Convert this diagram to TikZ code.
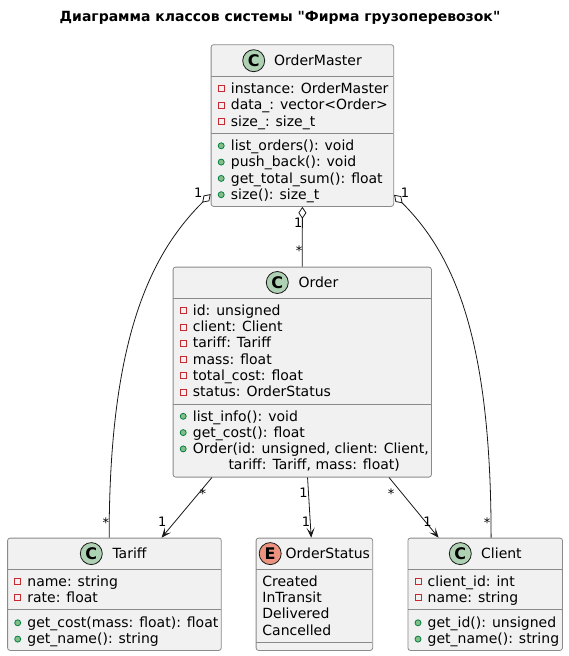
\documentclass[tikz,border=0pt]{standalone}
\usepackage{fontspec}
\setmainfont{DejaVu Sans}[Ligatures=TeXOff]
\usetikzlibrary{arrows.meta}
\definecolor{boxfill}{HTML}{F1F1F1}
\definecolor{boxline}{HTML}{8A8A8A}
\definecolor{linkline}{HTML}{181818}
\definecolor{spotC}{HTML}{ADD1B2}
\definecolor{spotE}{HTML}{EB937F}
\definecolor{privred}{HTML}{C82930}
\definecolor{pubfill}{HTML}{84BE84}
\definecolor{publine}{HTML}{038048}
\tikzset{
	classbox/.style={draw=boxline, fill=boxfill, line width=0.8pt, rounded corners=2.5pt, inner sep=0pt, anchor=north west},
	sepline/.style={draw=boxline, line width=0.8pt},
	spot/.style={circle, draw=linkline, line width=0.8pt, minimum size=22pt, inner sep=0pt, font=\fontsize{16}{16}\selectfont\bfseries},
	cname/.style={anchor=west, inner sep=0pt, font=\fontsize{14}{16}\selectfont},
	member/.style={anchor=base west, inner sep=0pt, font=\fontsize{14}{16}\selectfont},
	lbl/.style={anchor=base, inner sep=0pt, font=\fontsize{13}{15}\selectfont},
	link/.style={draw=linkline, line width=0.8pt},
	agg/.style={link, {Diamond[fill=white, length=12pt, width=8pt]}-},
	nav/.style={link, -{Stealth[length=10pt, width=8pt, inset=5pt]}}
}
\newcommand\privrow[4]{%
	\draw[privred, line width=0.8pt] ({#2-12.5},{#3-7.7}) rectangle +(6,6);
	\node[member] (#1) at ({#2},{#3}) {#4};}
\newcommand\pubrow[4]{%
	\draw[publine, fill=pubfill, line width=0.8pt] ({#2-9.5},{#3-4.7}) circle (3pt);
	\node[member] (#1) at ({#2},{#3}) {#4};}

\begin{document}
\begin{tikzpicture}[x=1pt, y=-1pt]
	\useasboundingbox (0,0) rectangle (568,656);
	\node[anchor=base, inner sep=0pt, font=\fontsize{14}{16}\selectfont\bfseries] (title) at (280,21.5) {Диаграмма классов системы "Фирма грузоперевозок"};

	\node[classbox, minimum width=182.6pt, minimum height=161.7pt] (om) at (210.7,44.3) {};
	\draw[sepline] (210.7,76) -- (393.3,76);
	\draw[sepline] (210.7,133.3) -- (393.3,133.3);
	\node[spot, fill=spotC] (om-spot) at (253.7,60.7) {C};
	\node[cname] (om-name) at (274,60.7) {OrderMaster};
	\foreach \t [count=\i] in {instance: OrderMaster, data\_: vector<Order>, size\_: size\_t}
		{\privrow{om-a\i}{230.7}{93.5+16.3*(\i-1)}{\t}}
	\foreach \t [count=\i] in {list\_orders(): void, push\_back(): void, get\_total\_sum(): float, size(): size\_t}
		{\pubrow{om-m\i}{230.7}{150.5+16.3*(\i-1)}{\t}}

	\node[classbox, minimum width=258.3pt, minimum height=210pt] (ord) at (172.7,266.7) {};
	\draw[sepline] (172.7,298) -- (431,298);
	\draw[sepline] (172.7,404) -- (431,404);
	\node[spot, fill=spotC] (ord-spot) at (277.3,282.5) {C};
	\node[cname] (ord-name) at (298.3,282.5) {Order};
	\foreach \t [count=\i] in {id: unsigned, client: Client, tariff: Tariff, mass: float, total\_cost: float, status: OrderStatus}
		{\privrow{ord-a\i}{192.7}{315.3+16.3*(\i-1)}{\t}}
	\foreach \t [count=\i] in {list\_info(): void, get\_cost(): float, {Order(id: unsigned, client: Client,}}
		{\pubrow{ord-m\i}{192.7}{421+16.3*(\i-1)}{\t}}
	\node[member] (ord-m4) at (228.3,469.9) {tariff: Tariff, mass: float)};

	\node[classbox, minimum width=213.7pt, minimum height=112.3pt] (tar) at (7.2,537.7) {};
	\draw[sepline] (7.2,569.3) -- (220.9,569.3);
	\draw[sepline] (7.2,609.3) -- (220.9,609.3);
	\node[spot, fill=spotC] (tar-spot) at (91.3,553.6) {C};
	\node[cname] (tar-name) at (112.3,553.6) {Tariff};
	\foreach \t [count=\i] in {name: string, rate: float}
		{\privrow{tar-a\i}{27.2}{586.2+16.3*(\i-1)}{\t}}
	\foreach \t [count=\i] in {get\_cost(mass: float): float, get\_name(): string}
		{\pubrow{tar-m\i}{27.2}{627.5+16.3*(\i-1)}{\t}}

	\node[classbox, minimum width=116.6pt, minimum height=112.3pt] (st) at (255.7,537.7) {};
	\draw[sepline] (255.7,569.3) -- (372.3,569.3);
	\draw[sepline] (255.7,642.7) -- (372.3,642.7);
	\node[spot, fill=spotE] (st-spot) at (270.2,553.6) {E};
	\node[cname] (st-name) at (285.4,553.6) {OrderStatus};
	\foreach \t [count=\i] in {Created, InTransit, Delivered, Cancelled}
		\node[member] (st-v\i) at (262.2,{586.2+16.3*(\i-1)}) {\t};

	\node[classbox, minimum width=154.6pt, minimum height=112.3pt] (cl) at (407.5,537.7) {};
	\draw[sepline] (407.5,569.3) -- (562.1,569.3);
	\draw[sepline] (407.5,609.3) -- (562.1,609.3);
	\node[spot, fill=spotC] (cl-spot) at (460.3,553.6) {C};
	\node[cname] (cl-name) at (481,553.6) {Client};
	\foreach \t [count=\i] in {client\_id: int, name: string}
		{\privrow{cl-a\i}{427.5}{586.2+16.3*(\i-1)}{\t}}
	\foreach \t [count=\i] in {get\_id(): unsigned, get\_name(): string}
		{\pubrow{cl-m\i}{427.5}{627.5+16.3*(\i-1)}{\t}}

	\draw[agg] (om.south) -- (ord.north);
	\draw[agg] ([yshift=12.7pt]om.south west) .. controls +(-60,60) and +(0,-200) .. ([xshift=-5.3pt]tar.north);
	\draw[agg] ([yshift=12pt]om.south east) .. controls +(60,60) and +(0,-200) .. ([xshift=5.9pt]cl.north);
	\draw[nav] ([xshift=39.2pt]ord.south west) -- ([xshift=47.1pt]tar.north);
	\draw[nav] ([xshift=5.3pt]ord.south) -- ([xshift=-3.2pt]st.north);
	\draw[nav] ([xshift=86.8pt]ord.south) -- ([xshift=-46.6pt]cl.north);

	\node[lbl] (l-om-ord1) at (298.2,227) {1};
	\node[lbl] (l-om-ord2) at (299.2,255.5) {*};
	\node[lbl] (l-om-tar1) at (198.3,197.7) {1};
	\node[lbl] (l-om-tar2) at (105.8,527.3) {*};
	\node[lbl] (l-om-cl1) at (405,197.3) {1};
	\node[lbl] (l-om-cl2) at (487.2,527) {*};
	\node[lbl] (l-ord-tar1) at (202.8,498.3) {*};
	\node[lbl] (l-ord-tar2) at (162.3,526.7) {1};
	\node[lbl] (l-ord-st1) at (303.5,497) {1};
	\node[lbl] (l-ord-st2) at (306,526.7) {1};
	\node[lbl] (l-ord-cl1) at (391.2,498.3) {*};
	\node[lbl] (l-ord-cl2) at (427.4,526.7) {1};
\end{tikzpicture}
\end{document}
